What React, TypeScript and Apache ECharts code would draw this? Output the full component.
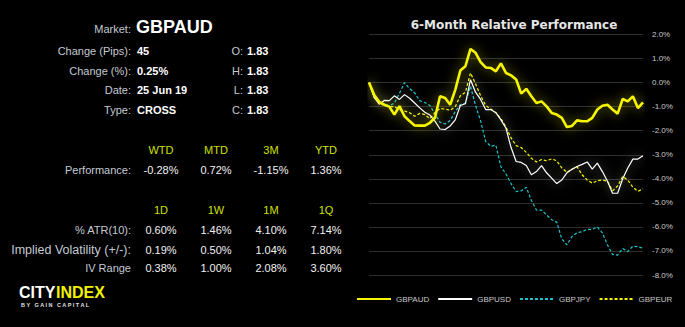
import React, { useEffect, useRef } from "react";
import * as echarts from "echarts";

// ---------- Data ----------
const marketName = "GBPAUD";
const infoLabels = ["Change (Pips):", "Change (%):", "Date:", "Type:"];
const infoValues = ["45", "0.25%", "25 Jun 19", "CROSS"];
const ohlcLabels = ["O:", "H:", "L:", "C:"];
const ohlcValues = ["1.83", "1.83", "1.83", "1.83"];

const perfHeaders = ["WTD", "MTD", "3M", "YTD"];
const perfValues = ["-0.28%", "0.72%", "-1.15%", "1.36%"];

const volHeaders = ["1D", "1W", "1M", "1Q"];
const volRowLabels = ["% ATR(10):", "Implied Volatility (+/-):", "IV Range"];
const atrValues = ["0.60%", "1.46%", "4.10%", "7.14%"];
const ivValues = ["0.19%", "0.50%", "1.04%", "1.80%"];
const ivRangeValues = ["0.38%", "1.00%", "2.08%", "3.60%"];

const chartTitle = "6-Month Relative Performance";
const seriesNames = ["GBPAUD", "GBPUSD", "GBPJPY", "GBPEUR"];

const gbpaud = [
  0.0, -0.5, -0.8, -0.92, -1.0, -1.33, -0.98, -1.4, -1.6, -1.78,
  -1.79, -1.79, -1.67, -1.46, -0.57, -0.64, -0.92, -0.3, 0.5, 0.68,
  1.4, 1.24, 0.85, 0.63, 0.61, 0.47, 0.8, 0.4, 0.3, 0.13,
  -0.46, -0.26, -0.57, -0.85, -0.78, -0.99, -1.26, -1.33, -1.47, -1.85,
  -1.8, -1.57, -1.61, -1.61, -1.47, -1.12, -0.96, -0.92, -1.12, -1.29,
  -0.68, -0.78, -0.57, -1.06, -0.82,
];
const gbpusd = [
  0.0, -0.6, -0.9, -0.74, -0.75, -0.55, -0.7, -0.5, -0.65, -0.85,
  -1.05, -1.23, -1.35, -1.6, -1.93, -1.95, -1.8, -1.55, -0.95, -0.88,
  0.12, -0.4, -0.7, -1.12, -1.12, -1.25, -1.55, -1.9, -2.7, -3.28,
  -3.32, -3.45, -3.83, -3.7, -3.45, -3.75, -3.97, -4.2, -4.05, -3.75,
  -3.6, -3.49, -3.4, -3.3, -3.6, -3.35, -3.7, -4.1, -4.6, -4.6,
  -4.0, -3.55, -3.18, -3.18, -3.04,
];
const gbpjpy = [
  0.0, -0.6, -0.78, -0.9, -0.97, -0.85, -0.45, 0.0, -0.25, -0.43,
  -0.75, -0.83, -0.95, -1.3, -1.65, -1.72, -1.58, -1.2, -0.92, -0.85,
  -0.15, -0.95, -1.6, -2.45, -2.65, -2.6, -3.5, -3.8, -4.2, -4.53,
  -4.5, -4.35, -4.9, -5.3, -5.3, -5.5, -5.7, -5.8, -6.5, -6.75,
  -6.4, -6.24, -6.2, -6.1, -6.1, -6.0, -6.25, -6.75, -7.15, -7.17,
  -6.9, -7.03, -6.8, -6.82, -6.89,
];
const gbpeur = [
  0.0, -0.6, -0.85, -0.95, -1.0, -1.0, -1.12, -1.18, -1.25, -1.4,
  -1.28, -1.33, -1.5, -1.25, -1.08, -1.1, -1.15, -1.0, -0.55, -0.4,
  0.4, -0.05, -0.55, -0.95, -1.1, -1.25, -1.5, -1.85, -2.3, -2.62,
  -2.7, -2.9, -3.15, -3.3, -3.2, -3.25, -3.17, -3.25, -3.55, -3.73,
  -3.6, -3.5, -3.83, -4.05, -4.18, -4.08, -4.05, -4.1, -4.5, -4.3,
  -3.9, -4.05, -4.35, -4.52, -4.42,
];
const periods = gbpaud.map((_, i) => String(i + 1));

// ---------- Styles ----------
const FONT = "'Liberation Sans', Arial, sans-serif";
const LABEL = "#c3cad2";
const HEAD = "#cfe000";
const YEL = "#f5f500";
const CYAN = "#19c3cc";

const colX = [161, 216, 271, 326];

function txt(text: string, x: number, y: number, opts: any = {}) {
  return {
    type: "text",
    x,
    y,
    silent: true,
    style: {
      text,
      fill: opts.fill || LABEL,
      fontFamily: opts.fontFamily || FONT,
      fontSize: opts.fontSize || 11,
      fontWeight: opts.fontWeight || "normal",
      textAlign: opts.align || "left",
      textVerticalAlign: "middle",
    },
  };
}

function buildGraphics() {
  const g: any[] = [];
  g.push(txt("Market:", 131, 29, { align: "right" }));
  g.push(txt(marketName, 136, 26.5, { fill: "#ffffff", fontSize: 18, fontWeight: "bold" }));
  const rowsY = [51, 70.5, 90, 110];
  infoLabels.forEach((l, i) => {
    g.push(txt(l, 131, rowsY[i], { align: "right" }));
    g.push(txt(infoValues[i], 137, rowsY[i], { fill: "#ffffff", fontWeight: "bold" }));
    g.push(txt(ohlcLabels[i], 243, rowsY[i], { align: "right" }));
    g.push(txt(ohlcValues[i], 247, rowsY[i], { fill: "#ffffff", fontWeight: "bold" }));
  });
  perfHeaders.forEach((h, i) => g.push(txt(h, colX[i], 150, { fill: HEAD, align: "center" })));
  g.push(txt("Performance:", 131, 170, { align: "right" }));
  perfValues.forEach((v, i) => g.push(txt(v, colX[i], 170, { fill: "#f2f2f2", align: "center" })));

  volHeaders.forEach((h, i) => g.push(txt(h, colX[i], 210, { fill: HEAD, align: "center" })));
  const volRows = [atrValues, ivValues, ivRangeValues];
  const volY = [230, 250, 268];
  volRowLabels.forEach((l, r) => {
    g.push(txt(l, 131, volY[r], { align: "right", fontSize: r === 1 ? 12.5 : 11 }));
    volRows[r].forEach((v, i) => g.push(txt(v, colX[i], volY[r], { fill: "#f2f2f2", align: "center" })));
  });

  // logo
  g.push(txt("CITY", 19, 292.5, { fill: "#ffffff", fontSize: 16, fontWeight: "bold" }));
  g.push(txt("INDEX", 56, 292.5, { fill: "#f0f000", fontSize: 16, fontWeight: "bold" }));
  g.push(txt("B Y   G A I N   C A P I T A L", 21, 304.5, { fill: "#e0e0e0", fontSize: 5.5, fontWeight: "bold" }));

  // chart title
  g.push(txt(chartTitle, 514, 24.5, { fill: "#e6e6e6", fontSize: 12, fontWeight: "bold", fontFamily: "'DejaVu Sans', sans-serif", align: "center" }));
  return g;
}

export default function App() {
  const ref = useRef<HTMLDivElement>(null);
  useEffect(() => {
    document.body.style.margin = "0";
    document.body.style.background = "#000";
    if (!ref.current) return;
    const chart = echarts.init(ref.current, undefined, { renderer: "svg" });
    const option: any = {
      animation: false,
      backgroundColor: "#000000",
      graphic: buildGraphics(),
      grid: { left: 369, right: 42, top: 34.5, bottom: 52 },
      legend: {
        left: 356,
        top: 295,
        padding: 0,
        itemWidth: 34,
        itemHeight: 8,
        itemGap: 8,
        data: seriesNames,
        itemStyle: { opacity: 0 },
        textStyle: { color: "#c8c8c8", fontSize: 8, fontFamily: FONT },
      },
      xAxis: {
        type: "category",
        data: periods,
        boundaryGap: false,
        axisLine: { show: false },
        axisTick: { show: false },
        axisLabel: { show: false },
        splitLine: { show: false },
      },
      yAxis: {
        type: "value",
        position: "right",
        min: -8,
        max: 2,
        interval: 1,
        axisLine: { show: false },
        axisTick: { show: false },
        axisLabel: {
          color: "#c8c8c8",
          fontSize: 8,
          fontFamily: FONT,
          margin: 9,
          formatter: (v: number) => v.toFixed(1) + "%",
        },
        splitLine: { lineStyle: { color: "#2e2e2e", width: 1 } },
      },
      series: [
        {
          name: "GBPJPY",
          type: "line",
          data: gbpjpy,
          symbol: "none",
          z: 2,
          lineStyle: { color: CYAN, width: 1.2, type: [3, 2] },
          itemStyle: { color: CYAN },
        },
        {
          name: "GBPEUR",
          type: "line",
          data: gbpeur,
          symbol: "none",
          z: 3,
          lineStyle: { color: YEL, width: 1.2, type: [3, 2], shadowColor: "rgba(245,245,0,0.35)", shadowBlur: 6 },
          itemStyle: { color: YEL },
        },
        {
          name: "GBPUSD",
          type: "line",
          data: gbpusd,
          symbol: "none",
          z: 4,
          lineStyle: { color: "#ffffff", width: 1.2, shadowColor: "rgba(255,255,255,0.55)", shadowBlur: 12 },
          itemStyle: { color: "#ffffff" },
        },
        {
          name: "GBPAUD",
          type: "line",
          data: gbpaud,
          symbol: "none",
          z: 5,
          lineStyle: { color: YEL, width: 2.6, shadowColor: "rgba(245,245,0,0.6)", shadowBlur: 12 },
          itemStyle: { color: YEL },
        },
      ],
    };
    chart.setOption(option);
    return () => chart.dispose();
  }, []);
  return <div ref={ref} style={{ width: 685, height: 327, background: "#000" }} />;
}
